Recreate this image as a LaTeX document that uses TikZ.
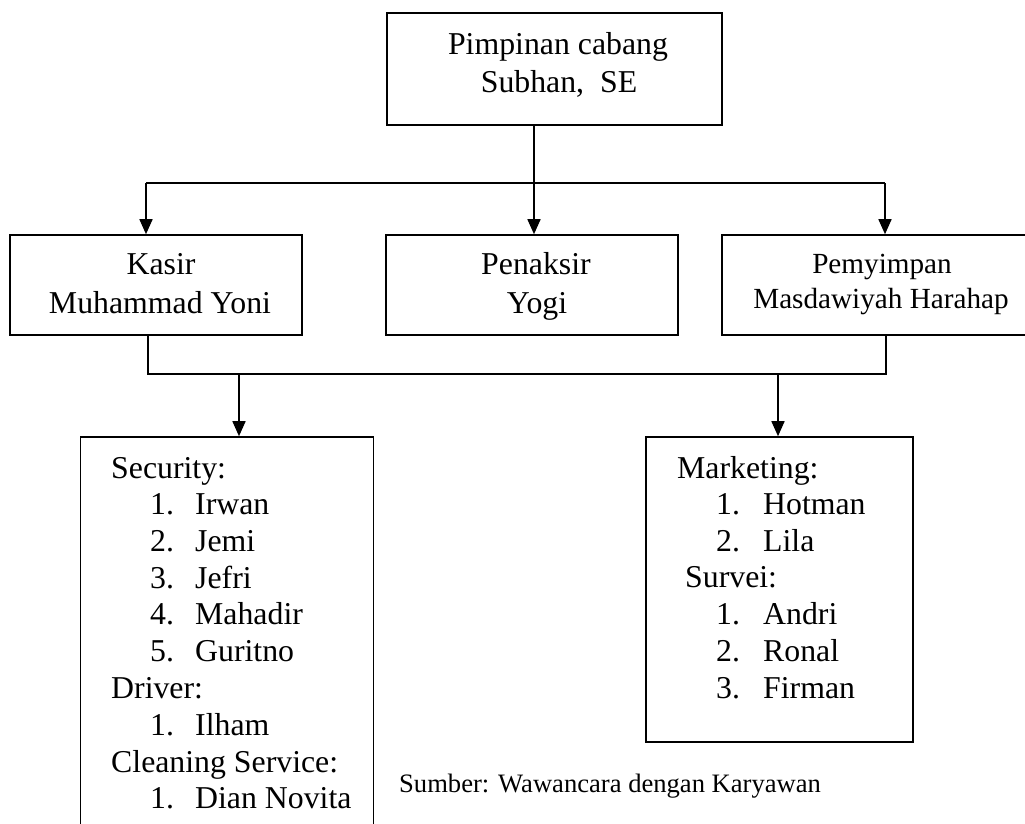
\documentclass[tikz,border=0pt]{standalone}
\usepackage{fontspec}
\setmainfont{Liberation Serif}
\usetikzlibrary{arrows.meta}
\tikzset{
  box/.style={draw, line width=1.6pt, rectangle, inner sep=0pt},
  conn/.style={line width=1.6pt},
  arr/.style={line width=1.6pt, -{Triangle[width=13pt,length=15pt]}},
  txt/.style={inner sep=0pt, font=\fontsize{31.8pt}{36.7pt}\selectfont},
  stxt/.style={inner sep=0pt, font=\fontsize{29.2pt}{35pt}\selectfont},
  src/.style={inner sep=0pt, font=\fontsize{26.6pt}{30pt}\selectfont}
}
\begin{document}
\begin{tikzpicture}[x=1pt,y=-1pt]
\useasboundingbox (0,0) rectangle (1025,823);
\clip (0,0) rectangle (1025,823);
\fill[white] (0,0) rectangle (1025,823);
% boxes
\node[box, minimum width=335pt, minimum height=112pt] (top) at (554.5,69) {};
\node[box, minimum width=292pt, minimum height=100pt] (kas) at (156,285) {};
\node[box, minimum width=292pt, minimum height=100pt] (pen) at (532,285) {};
\node[box, minimum width=320pt, minimum height=100pt] (pem) at (882,285) {};
\node[box, minimum width=293pt, minimum height=430pt] (lst1) at (227,652) {};
\node[box, minimum width=267pt, minimum height=305pt] (lst2) at (779.5,589.5) {};
% texts
\node[txt, anchor=base] (t1) at (558,54) {Pimpinan cabang};
\node[txt, anchor=base] (t2) at (559,92) {Subhan,\ \ SE};
\node[txt, anchor=base] (k1) at (161,274) {Kasir};
\node[txt, anchor=base] (k2) at (160,313) {Muhammad Yoni};
\node[txt, anchor=base] (p1) at (536,274) {Penaksir};
\node[txt, anchor=base] (p2) at (537,313) {Yogi};
\node[stxt, anchor=base] (m1) at (882,273) {Pemyimpan};
\node[stxt, anchor=base] (m2) at (881,308) {Masdawiyah Harahap};
% left list
\node[txt, anchor=base west] (a1) at (111,478) {Security:};
\foreach \n/\t/\y in {1/Irwan/514, 2/Jemi/551, 3/Jefri/588, 4/Mahadir/624, 5/Guritno/661}
  \node[txt, anchor=base west] (s\n) at (150,\y) {\makebox[45pt][l]{\n.}\t};
\node[txt, anchor=base west] (a2) at (111,698) {Driver:};
\node[txt, anchor=base west] (d1) at (150,735) {\makebox[45pt][l]{1.}Ilham};
\node[txt, anchor=base west] (a3) at (111,772) {Cleaning Service:};
\node[txt, anchor=base west] (c1) at (150,808) {\makebox[45pt][l]{1.}Dian Novita};
% right list
\node[txt, anchor=base west] (b1) at (677,478) {Marketing:};
\node[txt, anchor=base west] (h1) at (716,514) {\makebox[47pt][l]{1.}Hotman};
\node[txt, anchor=base west] (h2) at (716,551) {\makebox[47pt][l]{2.}Lila};
\node[txt, anchor=base west] (b2) at (685,587) {Survei:};
\foreach \n/\t/\y in {1/Andri/624, 2/Ronal/661, 3/Firman/698}
  \node[txt, anchor=base west] (v\n) at (716,\y) {\makebox[47pt][l]{\n.}\t};
% source
\node[src, anchor=base west] (sumber) at (399,792) {Sumber: Wawancara dengan Karyawan};
% junction coordinates
\coordinate (jc) at (534,183);
\coordinate (jl) at (146,183);
\coordinate (jr) at (885,183);
\coordinate (ql) at (148,374);
\coordinate (qr) at (886,374);
\coordinate (dl) at (239,374);
\coordinate (dr) at (778,374);
% connectors
\draw[conn] (top.south -| jc) -- (jc);
\draw[conn] (jl) -- (jr);
\draw[arr] (jl) -- (kas.north -| jl);
\draw[arr] (jc) -- (pen.north -| jc);
\draw[arr] (jr) -- (pem.north -| jr);
\draw[conn] (kas.south -| ql) -- (ql) -- (qr) -- (pem.south -| qr);
\draw[arr] (dl) -- (lst1.north -| dl);
\draw[arr] (dr) -- (lst2.north -| dr);
\end{tikzpicture}
\end{document}
